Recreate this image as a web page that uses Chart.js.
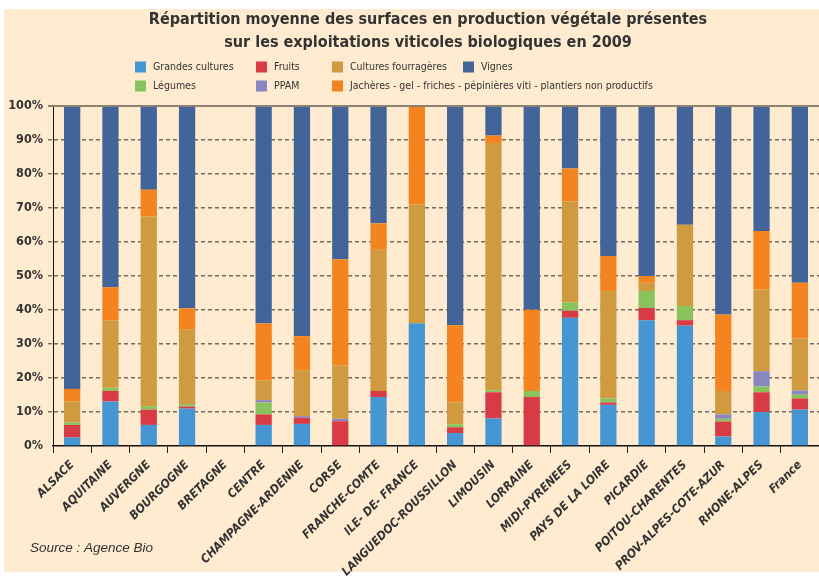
<!DOCTYPE html>
<html>
<head>
<meta charset="utf-8">
<script src="https://cdn.jsdelivr.net/npm/chart.js@4"></script>
<style>
  html, body { margin: 0; padding: 0; background: #ffffff; }
  #wrap { width: 819px; height: 576px; }
</style>
</head>
<body>
<div id="wrap"><canvas id="c" width="819" height="576"></canvas></div>
<script>
// Régions (catégories)
const regions = ['ALSACE', 'AQUITAINE', 'AUVERGNE', 'BOURGOGNE', 'BRETAGNE', 'CENTRE',
  'CHAMPAGNE-ARDENNE', 'CORSE', 'FRANCHE-COMTE', 'ILE- DE- FRANCE', 'LANGUEDOC-ROUSSILLON',
  'LIMOUSIN', 'LORRAINE', 'MIDI-PYRENEES', 'PAYS DE LA LOIRE', 'PICARDIE', 'POITOU-CHARENTES',
  'PROV-ALPES-COTE-AZUR', 'RHONE-ALPES', 'France'];

// Parts en %, de bas en haut
const grandesCultures = [2.5, 13.1, 6.2, 11.0, 0, 6.2, 6.5, 0, 14.4, 36.1, 3.8, 8.1, 0, 37.7, 12.1, 37.0, 35.4, 2.8, 10.0, 10.7];
const fruits          = [3.7, 3.1, 4.5, 0.6, 0, 3.1, 1.8, 7.3, 1.8, 0, 1.7, 7.7, 14.4, 2.1, 0.7, 3.6, 1.6, 4.4, 5.8, 3.3];
const legumes         = [0.7, 0.9, 1.0, 0.7, 0, 3.5, 0, 0, 0, 0, 0.9, 0.6, 1.8, 2.4, 1.2, 5.0, 4.2, 0.8, 1.7, 1.1];
const ppam            = [0, 0, 0, 0, 0, 0.7, 0.5, 0.7, 0, 0, 0, 0, 0, 0, 0, 0, 0, 1.3, 4.5, 1.2];
const fourrageres     = [6.2, 19.8, 55.8, 21.9, 0, 5.8, 13.5, 15.7, 41.5, 34.9, 6.4, 72.7, 0, 29.7, 31.6, 2.4, 23.9, 6.9, 24.0, 15.3];
const jacheres        = [3.7, 9.8, 7.9, 6.3, 0, 16.7, 10.0, 31.2, 7.8, 29.0, 22.7, 2.2, 23.9, 9.7, 10.3, 2.0, 0, 22.5, 17.2, 16.4];
const vignes          = [83.2, 53.3, 24.6, 59.5, 0, 64.0, 67.7, 45.1, 34.5, 0, 64.5, 8.7, 59.9, 18.4, 44.1, 50.0, 34.9, 61.3, 36.8, 52.0];

const yTicks = [0, 10, 20, 30, 40, 50, 60, 70, 80, 90, 100];

const NARROW = '"Liberation Sans Narrow", "DejaVu Sans Condensed", sans-serif';
const TXT = '#333333';
const BG = '#FEEBD0';

const datasets = [
  { label: 'Grandes cultures', data: grandesCultures, backgroundColor: '#4596D3' },
  { label: 'Fruits', data: fruits, backgroundColor: '#D83A46' },
  { label: 'Légumes', data: legumes, backgroundColor: '#88C35E' },
  { label: 'PPAM', data: ppam, backgroundColor: '#8A86C0' },
  { label: 'Cultures fourragères', data: fourrageres, backgroundColor: '#CF9A40' },
  { label: 'Jachères - gel - friches - pépinières viti - plantiers non productifs', data: jacheres, backgroundColor: '#F38420' },
  { label: 'Vignes', data: vignes, backgroundColor: '#436499' }
];

// position des entrées de la légende (colonne, ligne) comme sur l'original
const legendSlots = [[135, 67], [256, 67], [135, 86], [256, 86], [332, 67], [332, 86], [463, 67]];

const decor = {
  id: 'decor',
  beforeDraw(chart) {
    const ctx = chart.ctx;
    ctx.save();
    ctx.fillStyle = BG;
    ctx.fillRect(4, 9, 815, 563);
    ctx.restore();
  },
  afterDraw(chart) {
    const ctx = chart.ctx;
    const y = chart.scales.y;
    ctx.save();
    // ligne du haut (100 %)
    ctx.strokeStyle = '#8C8070';
    ctx.lineWidth = 2;
    ctx.beginPath();
    ctx.moveTo(48, y.getPixelForValue(100));
    ctx.lineTo(819, y.getPixelForValue(100));
    ctx.stroke();

    // titre
    ctx.fillStyle = TXT;
    ctx.textAlign = 'center';
    ctx.textBaseline = 'middle';
    ctx.font = 'bold 16px ' + NARROW;
    ctx.fillText('Répartition moyenne des surfaces en production végétale présentes', 428, 20);
    ctx.fillText('sur les exploitations viticoles biologiques en 2009', 428, 43);

    // légende
    ctx.textAlign = 'left';
    ctx.font = '10.5px ' + NARROW;
    chart.data.datasets.forEach((ds, i) => {
      const [lx, ly] = legendSlots[i];
      ctx.fillStyle = ds.backgroundColor;
      ctx.fillRect(lx, ly - 5.5, 11, 11);
      ctx.fillStyle = TXT;
      ctx.fillText(ds.label, lx + 18, ly);
    });

    // source
    ctx.font = 'italic 13.5px "Liberation Sans", sans-serif';
    ctx.fillText('Source : Agence Bio', 30, 548);
    ctx.restore();
  }
};

new Chart(document.getElementById('c'), {
  type: 'bar',
  data: { labels: regions, datasets: datasets },
  options: {
    responsive: false,
    animation: false,
    layout: { padding: { top: 106, left: 0, right: 0, bottom: 0 } },
    plugins: { legend: { display: false }, title: { display: false }, tooltip: { enabled: false } },
    datasets: { bar: { barPercentage: 0.425, categoryPercentage: 1, borderWidth: 0 } },
    scales: {
      x: {
        stacked: true,
        afterFit: (s) => { s.height = 130; },
        grid: { drawOnChartArea: false, drawTicks: true, tickLength: 7, color: '#222', offset: true },
        border: { color: '#111', width: 1.5 },
        ticks: {
          autoSkip: false, minRotation: 45, maxRotation: 45, padding: 5,
          color: TXT, font: { family: NARROW, size: 12, weight: 'bold', style: 'italic' }
        }
      },
      y: {
        stacked: true, min: 0, max: 100,
        afterFit: (s) => { s.width = 53; },
        afterBuildTicks: (s) => { s.ticks = yTicks.map(v => ({ value: v })); },
        grid: {
          color: (c) => (c.tick && (c.tick.value === 0 || c.tick.value === 100)) ? 'rgba(0,0,0,0)' : 'rgba(70,64,58,0.75)',
          lineWidth: 1.4, tickLength: 5, tickBorderDash: [4, 3]
        },
        border: { color: '#111', width: 1, dash: [4, 3] },
        ticks: {
          padding: 5, color: TXT,
          font: { family: NARROW, size: 12.5, weight: 'bold' },
          callback: (v) => v + '%'
        }
      }
    }
  },
  plugins: [decor]
});
</script>
</body>
</html>
